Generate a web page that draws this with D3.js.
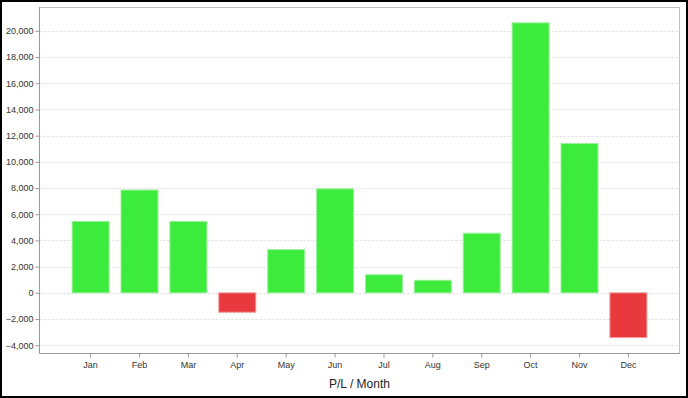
<!DOCTYPE html>
<html>
<head>
<meta charset="utf-8">
<script src="https://cdn.jsdelivr.net/npm/d3@7/dist/d3.min.js"></script>
<style>
  html, body { margin: 0; padding: 0; background: #fff; }
  svg { display: block; font-family: "Liberation Sans", Arial, sans-serif; }
</style>
</head>
<body>
<script>
const months = ["Jan", "Feb", "Mar", "Apr", "May", "Jun", "Jul", "Aug", "Sep", "Oct", "Nov", "Dec"];
const profit = [5450, 7850, 5450, -1480, 3300, 7940, 1380, 960, 4550, 20610, 11400, -3410];
const yTicks = [-4000, -2000, 0, 2000, 4000, 6000, 8000, 10000, 12000, 14000, 16000, 18000, 20000];
const chartTitle = "P/L / Month";

const width = 688, height = 398;
const plot = { left: 39.5, right: 679.5, top: 7.5, bottom: 353.5 };

const svg = d3.select("body").append("svg")
  .attr("width", width)
  .attr("height", height);

// outer frame
svg.append("rect")
  .attr("x", 1).attr("y", 1)
  .attr("width", width - 2).attr("height", height - 2)
  .attr("fill", "#fff")
  .attr("stroke", "#000")
  .attr("stroke-width", 2);

const x = d3.scaleBand()
  .domain(months)
  .range([plot.left, plot.right])
  .paddingInner(0.243)
  .paddingOuter(0.667);

const y = d3.scaleLinear()
  .domain([-4630, 21780])
  .range([plot.bottom, plot.top]);

// plot box
svg.append("rect")
  .attr("x", plot.left).attr("y", plot.top)
  .attr("width", plot.right - plot.left).attr("height", plot.bottom - plot.top)
  .attr("fill", "#fff")
  .attr("stroke", "#c0c0c0");

// grid
svg.append("g")
  .selectAll("line")
  .data(yTicks)
  .join("line")
  .attr("x1", plot.left)
  .attr("x2", plot.right)
  .attr("y1", d => Math.round(y(d)) + 0.5)
  .attr("y2", d => Math.round(y(d)) + 0.5)
  .attr("stroke", "#dcdcdc")
  .attr("stroke-dasharray", "2,2");

// bars
svg.append("g")
  .selectAll("rect")
  .data(profit)
  .join("rect")
  .attr("x", (d, i) => x(months[i]))
  .attr("width", x.bandwidth())
  .attr("y", d => y(Math.max(0, d)))
  .attr("height", d => Math.abs(y(d) - y(0)))
  .attr("fill", d => d >= 0 ? "#3deb3d" : "#e8393e")
  .attr("stroke", d => d >= 0 ? "#9af29a" : "#f29a9c")
  .attr("stroke-width", 1);

// y axis
const yAxis = svg.append("g")
  .attr("transform", `translate(${plot.left},0)`)
  .call(d3.axisLeft(y).tickValues(yTicks).tickSize(4).tickPadding(2)
    .tickFormat(d3.format(",")));
yAxis.select(".domain").attr("stroke", "#999").attr("d", `M0,${plot.top}V${plot.bottom}`);
yAxis.selectAll(".tick line").attr("stroke", "#999");
yAxis.selectAll("text").attr("fill", "#333").style("font-size", "9px");

// x axis
const xAxis = svg.append("g")
  .attr("transform", `translate(0,${plot.bottom})`)
  .call(d3.axisBottom(x).tickSize(4).tickPadding(4));
xAxis.select(".domain").attr("stroke", "#999").attr("d", `M${plot.left},0H${plot.right}`);
xAxis.selectAll(".tick line").attr("stroke", "#999");
xAxis.selectAll("text").attr("fill", "#333").style("font-size", "9px");

// title
svg.append("text")
  .attr("x", (plot.left + plot.right) / 2)
  .attr("y", 388)
  .attr("text-anchor", "middle")
  .attr("fill", "#222")
  .style("font-size", "12px")
  .text(chartTitle);
</script>
</body>
</html>
